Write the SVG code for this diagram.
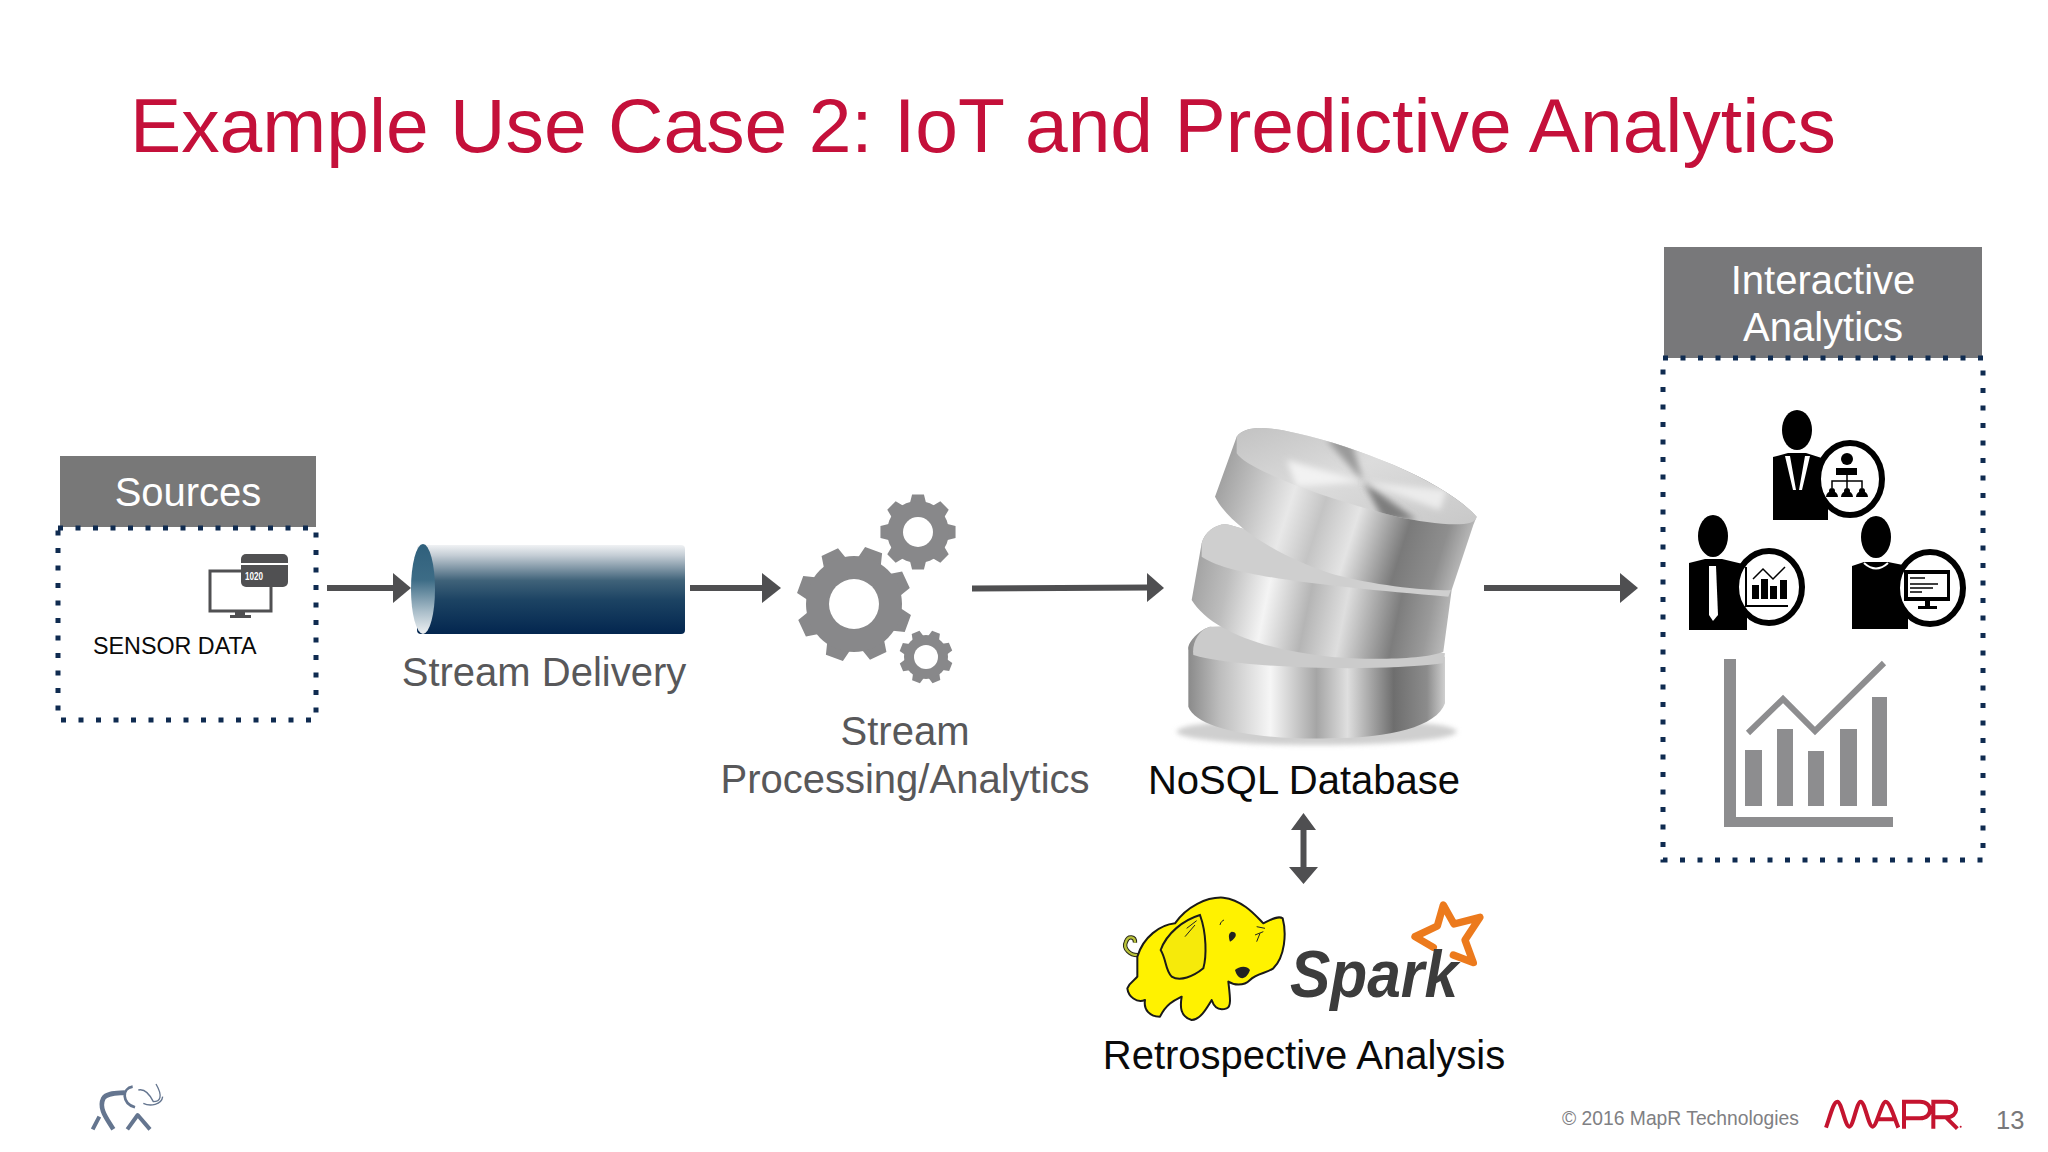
<svg xmlns="http://www.w3.org/2000/svg" width="2048" height="1152" viewBox="0 0 2048 1152">
<defs>
<style>
text{font-family:"Liberation Sans",Arial,sans-serif}
.hd{font-size:40px;fill:#fff;text-anchor:middle}
.lb{font-size:40px;fill:#58585a;text-anchor:middle}
.bk{font-size:40px;fill:#0a0a0a;text-anchor:middle}
.dot{fill:none;stroke:#0f2b50;stroke-width:5;stroke-dasharray:5 12.5}
.ln{fill:none;stroke:#4f4f51;stroke-width:6}
.ah{fill:#4f4f51}
.bar{fill:#8d8d8f}
.p{fill:#000}
.ring{fill:#fff;stroke:#000;stroke-width:6}
.gr{fill:#88888a}
.thin{fill:none;stroke:#000;stroke-width:1.500}
</style>
<linearGradient id="pipe" x1="0" y1="0" x2="0" y2="1"><stop offset="0" stop-color="#f0f2f4"/><stop offset=".12" stop-color="#c3ccd4"/><stop offset=".4" stop-color="#3f6279"/><stop offset=".62" stop-color="#1c4363"/><stop offset="1" stop-color="#03264f"/></linearGradient>
<linearGradient id="pipeEnd" x1="0" y1="0" x2="0" y2="1"><stop offset="0" stop-color="#2f607c"/><stop offset=".4" stop-color="#3d6c86"/><stop offset=".75" stop-color="#a9bdc9"/><stop offset="1" stop-color="#eef1f3"/></linearGradient>
<linearGradient id="m1" gradientUnits="userSpaceOnUse" x1="255" y1="180" x2="1035" y2="430"><stop offset="0" stop-color="#9a9a9a"/><stop offset=".12" stop-color="#b8b8b8"/><stop offset=".3" stop-color="#e8e8e8"/><stop offset=".42" stop-color="#c4c4c4"/><stop offset=".55" stop-color="#e4e4e4"/><stop offset=".74" stop-color="#7a7a7a"/><stop offset=".88" stop-color="#8e8e8e"/><stop offset="1" stop-color="#c9c9c9"/></linearGradient>
<linearGradient id="m2" gradientUnits="userSpaceOnUse" x1="185" y1="480" x2="960" y2="640"><stop offset="0" stop-color="#a0a0a0"/><stop offset=".14" stop-color="#bdbdbd"/><stop offset=".3" stop-color="#f4f4f4"/><stop offset=".46" stop-color="#b5b5b5"/><stop offset=".6" stop-color="#dedede"/><stop offset=".8" stop-color="#7d7d7d"/><stop offset=".92" stop-color="#9a9a9a"/><stop offset="1" stop-color="#bbb"/></linearGradient>
<linearGradient id="m3" x1="0" y1="0" x2="1" y2="0"><stop offset="0" stop-color="#8a8a8a"/><stop offset=".12" stop-color="#bcbcbc"/><stop offset=".32" stop-color="#f6f6f6"/><stop offset=".5" stop-color="#a5a5a5"/><stop offset=".62" stop-color="#dfdfdf"/><stop offset=".8" stop-color="#6e6e6e"/><stop offset=".93" stop-color="#8c8c8c"/><stop offset="1" stop-color="#cfcfcf"/></linearGradient>
<linearGradient id="face" x1="0" y1="0" x2="1" y2="1"><stop offset="0" stop-color="#c2c2c2"/><stop offset=".45" stop-color="#dcdcdc"/><stop offset="1" stop-color="#c8c8c8"/></linearGradient>
<filter id="blur" x="-30%" y="-100%" width="160%" height="300%"><feGaussianBlur stdDeviation="8"/></filter>
<filter id="soft" x="-40%" y="-40%" width="180%" height="180%"><feGaussianBlur stdDeviation="9"/></filter>
<path id="gear" d="M75-21.500L98.800-15.600 98.800 15.600 75 21.500 68.200 37.800 80.900 58.800 58.800 80.900 37.800 68.200 21.500 75 15.600 98.800-15.600 98.800-21.500 75-37.800 68.200-58.800 80.900-80.900 58.800-68.200 37.800-75 21.500-98.800 15.600-98.800-15.600-75-21.500-68.200-37.800-80.900-58.800-58.800-80.900-37.800-68.200-21.500-75-15.600-98.800 15.600-98.800 21.500-75 37.800-68.200 58.800-80.900 80.900-58.800 68.200-37.800Z"/>
<clipPath id="faceClip"><path d="M320 80C345 45 420 50 500 70C700 115 950 220 1040 320C1035 360 900 340 800 320C600 270 350 180 320 130Z"/></clipPath>
</defs>
<rect width="2048" height="1152" fill="#fff"/>
<text x="130" y="152" font-size="76.800" fill="#c4103a">Example Use Case 2: IoT and Predictive Analytics</text>

<g id="connectors">
<path class="ln" d="M327 588H396"/><path class="ah" d="M393 573L411 588L393 603Z"/>
<path class="ln" d="M690 588H766"/><path class="ah" d="M762 573L781 588L762 603Z"/>
<path class="ln" d="M972 588.500L1150 587.500"/><path class="ah" d="M1147 573L1164 588L1147 602Z"/>
<path class="ln" d="M1484 588H1624"/><path class="ah" d="M1620 573L1638 588L1620 603Z"/>
<path class="ln" d="M1303.500 825V870"/><path class="ah" d="M1303.500 813L1316 830H1291ZM1303.500 884L1289 867H1318Z"/>
</g>

<g id="sources">
<rect x="60" y="456" width="256" height="71" fill="#787878"/>
<text class="hd" x="188" y="506">Sources</text>
<rect class="dot" x="58" y="528" width="258" height="192"/>
<path d="M210 571H271V611H210Z" fill="none" stroke="#505052" stroke-width="3"/>
<path d="M235 611h10v4h6v3h-21v-3h5z" fill="#505052"/>
<rect x="241" y="554" width="47" height="33" rx="5" fill="#505052"/>
<rect x="241" y="563" width="47" height="2" fill="#fff"/>
<text x="245" y="580" font-size="10" font-weight="bold" fill="#fff" textLength="18" lengthAdjust="spacingAndGlyphs">1020</text>
<text x="93" y="654" font-size="23.300" fill="#0a0a0a">SENSOR DATA</text>
</g>

<g id="stream-delivery">
<rect x="417" y="545" width="268" height="89" rx="4" fill="url(#pipe)"/>
<ellipse cx="423" cy="589" rx="12" ry="45" fill="url(#pipeEnd)"/>
<text class="lb" x="544" y="686">Stream Delivery</text>
</g>

<g id="stream-processing">
<use href="#gear" class="gr" transform="translate(854,604) rotate(20) scale(.58)"/>
<circle class="gr" cx="854" cy="604" r="48"/>
<use href="#gear" class="gr" transform="translate(918,532) scale(.38)"/>
<circle class="gr" cx="918" cy="532" r="31"/>
<use href="#gear" class="gr" transform="translate(926,657) rotate(22) scale(.27)"/>
<circle class="gr" cx="926" cy="657" r="22"/>
<circle cx="854" cy="604" r="25" fill="#fff"/>
<circle cx="918" cy="532" r="15" fill="#fff"/>
<circle cx="926" cy="657" r="12" fill="#fff"/>
<text class="lb" x="905" y="745">Stream</text>
<text class="lb" x="905" y="793">Processing/Analytics</text>
</g>

<g id="nosql">
<g transform="translate(1130,410) scale(.33333)">
<ellipse cx="560" cy="965" rx="420" ry="40" fill="#cfcfcf" filter="url(#blur)"/>
<path d="M175 720C170 700 205 660 240 650L945 740V880C920 950 780 985 600 985C400 990 200 960 175 890Z" fill="url(#m3)"/>
<path d="M190 735C300 770 700 790 940 760L945 730 500 640 240 650C205 660 185 700 190 735Z" fill="#cbcbcb"/>
<path d="M215 400C225 360 270 335 300 345L965 540L940 725C880 750 700 750 600 740C400 720 240 660 185 570Z" fill="url(#m2)"/>
<path d="M215 440C300 500 600 530 955 560L965 535 300 345C270 335 225 360 215 400Z" fill="#cfcfcf"/>
<path d="M255 260L320 80C345 45 420 50 500 70C700 115 950 220 1040 320L1030 345L965 540C880 545 700 520 600 490C450 440 300 350 255 260Z" fill="url(#m1)"/>
<path d="M320 80C345 45 420 50 500 70C700 115 950 220 1040 320C1035 360 900 340 800 320C600 270 350 180 320 130Z" fill="url(#face)"/>
<g clip-path="url(#faceClip)">
<path d="M700 215L590 90L660 80Z" fill="#9a9a9a" filter="url(#soft)"/>
<path d="M700 215L860 330L760 330Z" fill="#7d7d7d" filter="url(#soft)"/>
<path d="M700 215L470 150L500 230Z" fill="#f2f2f2" filter="url(#soft)"/>
<path d="M700 215L950 240L930 300Z" fill="#ececec" filter="url(#soft)"/>
</g>
</g>
<text class="bk" x="1304" y="794">NoSQL Database</text>
</g>

<g id="retrospective">
<g id="hadoop" transform="translate(1100,800) scale(.33333)">
<path d="M118 465C90 468 68 445 78 425C85 405 106 410 105 428" fill="none" stroke="#2a2a18" stroke-width="13"/>
<path d="M118 465C90 468 68 445 78 425C85 405 106 410 105 428" fill="none" stroke="#b9c23a" stroke-width="7"/>
<path d="M112 470C130 410 180 375 225 370C260 320 320 290 370 293C430 300 470 350 490 370C510 360 535 345 548 355C560 400 555 470 520 505C500 520 470 520 450 540C430 560 400 555 385 545C390 590 395 620 380 625C350 635 340 615 335 600C320 625 300 660 275 660C240 650 240 620 245 590C225 600 200 610 180 650C150 650 130 630 135 600C110 610 85 590 82 565C90 545 105 540 112 530Z" fill="#fff200" stroke="#1a1a1a" stroke-width="6" stroke-linejoin="round"/>
<path d="M182 450C200 400 250 360 300 345C320 400 320 470 310 505C280 530 240 545 215 530C195 510 200 480 182 450Z" fill="#f6ea0a" stroke="#1a1a1a" stroke-width="6"/>
<path d="M395 395C410 395 415 410 390 425C385 410 385 400 395 395ZM405 510C415 545 440 540 450 510C440 495 415 500 405 510Z" fill="#222"/>
<path d="M360 375C362 365 368 362 372 360M470 380L495 385M465 405L490 395M470 425L480 400M260 385L290 362M255 410L285 375" fill="none" stroke="#222" stroke-width="3"/>
</g>
<g id="spark">
<path transform="translate(1100,800) scale(.33333)" d="M1000 442L945 410L1012 378L1030 315L1062 372L1140 352L1095 420L1120 488L1060 465" fill="none" stroke="#ec7a1d" stroke-width="22" stroke-linejoin="round" stroke-linecap="round"/>
<text x="1290" y="997" font-size="66" font-style="italic" font-weight="bold" fill="#3c3c3c" textLength="168" lengthAdjust="spacingAndGlyphs">Spark</text>
</g>
<text class="bk" x="1304" y="1069">Retrospective Analysis</text>
</g>

<g id="interactive-analytics">
<rect x="1664" y="247" width="318" height="111" fill="#78787a"/>
<text class="hd" x="1823" y="294">Interactive</text>
<text class="hd" x="1823" y="341">Analytics</text>
<rect class="dot" x="1663" y="358" width="320" height="502"/>
<g id="person1">
<ellipse cx="1797" cy="430" rx="15" ry="20" class="p"/>
<path class="p" d="M1773 457L1788 453H1806L1828 460V520H1773Z"/>
<path d="M1785 456H1790L1796 490H1793ZM1810 456H1805L1799 490H1802Z" fill="#fff"/>
<ellipse class="ring" cx="1850" cy="479" rx="32" ry="36"/>
<circle cx="1847" cy="459" r="6" class="p"/>
<rect x="1836" y="468" width="21" height="7" class="p"/>
<path class="thin" d="M1832 488V481H1862V488M1847 475V488"/>
<path class="p" d="M1826 497a6 6 0 0 1 12 0zM1841 497a6 6 0 0 1 12 0zM1856 497a6 6 0 0 1 12 0z"/>
<circle cx="1832" cy="491" r="3" class="p"/><circle cx="1847" cy="491" r="3" class="p"/><circle cx="1862" cy="491" r="3" class="p"/>
</g>
<g id="person2">
<ellipse cx="1713" cy="536" rx="15" ry="21" class="p"/>
<path d="M1689 563L1705 559H1722L1747 565V630H1689Z" class="p"/>
<path d="M1709 566H1716L1718 615L1713 621L1709 615Z" fill="#fff"/>
<ellipse class="ring" cx="1769" cy="587" rx="33" ry="36"/>
<path d="M1746 567V606H1788" fill="none" stroke="#000" stroke-width="2"/>
<path class="thin" d="M1753 579L1763 569L1773 579L1785 567"/>
<path class="p" d="M1752 585h7v14h-7zM1761 579h7v20h-7zM1770 586h7v13h-7zM1780 580h7v19h-7z"/>
</g>
<g id="person3">
<ellipse cx="1876" cy="537" rx="15" ry="21" class="p"/>
<path d="M1852 566L1864 562H1888L1908 566V629H1852Z" class="p"/>
<path d="M1864 563Q1876 574 1888 563" fill="none" stroke="#fff" stroke-width="2"/>
<ellipse class="ring" cx="1930" cy="588" rx="33" ry="36"/>
<rect x="1904" y="570" width="46" height="31" class="p"/>
<rect x="1908" y="574" width="39" height="23" fill="#fff"/>
<path class="thin" d="M1910 578H1925M1910 584H1938M1910 588H1933M1910 592H1922"/>
<path class="p" d="M1925 601h5v5h7v3h-19v-3h7z"/>
</g>
<g id="chart">
<path class="bar" d="M1724 659H1736V817H1893V827H1724Z"/>
<path class="bar" d="M1745 750H1762V806H1745ZM1777 729H1793V806H1777ZM1808 751H1824V806H1808ZM1840 729H1857V806H1840ZM1872 697H1887V806H1872Z"/>
<path d="M1748 733L1783 699L1815 731L1884 663" fill="none" stroke="#8d8d8f" stroke-width="6"/>
</g>
</g>

<g id="footer">
<g id="elephant" transform="translate(70,1070) scale(.33333)" fill="none" stroke="#64758f" stroke-linejoin="round">
<path d="M130 178C110 145 85 115 100 85C110 68 140 70 165 68" stroke-width="14"/>
<path d="M68 178L88 140M172 178L203 135L240 178" stroke-width="12"/>
<path d="M188 50C155 55 155 100 195 112" stroke-width="8"/>
<path d="M205 60C225 55 240 75 250 95C270 95 280 80 258 42M220 100C240 110 275 105 278 80" stroke-width="4"/>
</g>
<text x="1562" y="1125" font-size="19.300" fill="#808083">© 2016 MapR Technologies</text>
<g id="mapr" transform="translate(1540,1080) scale(.33333)" fill="none" stroke="#c4142f" stroke-width="12">
<path d="M858 143C870 110 880 65 892 65C905 65 915 140 928 140C940 140 950 65 962 65C975 65 985 140 998 140C1010 140 1025 65 1037 65C1050 65 1065 120 1075 143M1012 118H1062M1092 146V65H1140C1180 65 1180 115 1140 115H1092M1180 146V65H1222C1258 65 1258 112 1218 112H1180M1218 112L1252 146"/>
<circle cx="1262" cy="140" r="3" fill="#c4142f" stroke="none"/>
</g>
<text x="1996" y="1129" font-size="25.500" fill="#78787a">13</text>
</g>
</svg>
